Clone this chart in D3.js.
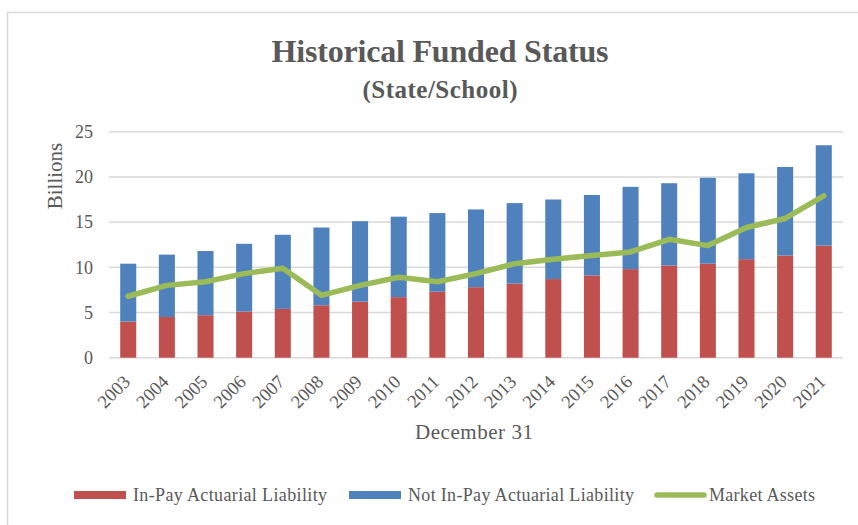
<!DOCTYPE html>
<html>
<head>
<meta charset="utf-8">
<script src="https://cdn.jsdelivr.net/npm/d3@7"></script>
<style>
  body { margin: 0; background: #fff; }
  text { font-family: 'Liberation Serif', 'Times New Roman', serif; fill: #595959; }
</style>
</head>
<body>
<svg id="chart" width="858" height="525"></svg>
<script>
// Historical funded status, state/school plan

const years = ['2003', '2004', '2005', '2006', '2007', '2008', '2009', '2010', '2011', '2012',
  '2013', '2014', '2015', '2016', '2017', '2018', '2019', '2020', '2021']
const inPay = [4.0, 4.5, 4.7, 5.1, 5.4, 5.8, 6.2, 6.7, 7.3, 7.8, 8.2, 8.7, 9.1, 9.8, 10.2, 10.4, 10.9, 11.3, 12.4]
const notInPay = [6.4, 6.9, 7.1, 7.5, 8.2, 8.6, 8.9, 8.9, 8.7, 8.6, 8.9, 8.8, 8.9, 9.1, 9.1, 9.5, 9.5, 9.8, 11.1]
const marketAssets = [6.8, 8.0, 8.4, 9.3, 9.9, 6.9, 8.0, 8.9, 8.4, 9.3, 10.4, 10.9, 11.3, 11.7, 13.1, 12.4, 14.4, 15.4, 17.9]
const yTicks = [0, 5, 10, 15, 20, 25]

const colors = { inPay: '#C0504D', notInPay: '#4F81BD', assets: '#9BBB59' }

let svg = d3.select('#chart')

// Chart frame
svg.append('rect')
  .attr('x', 7.5)
  .attr('y', 12.5)
  .attr('width', 856)
  .attr('height', 520)
  .style('fill', 'none')
  .style('stroke', '#D9D9D9')
  .style('stroke-width', 1.5)

let plot = { left: 109, right: 843, top: 131.7, bottom: 357.7 }

let x = d3.scaleBand()
    .domain(years)
    .range([plot.left, plot.right])
    .paddingInner(0.585)
    .paddingOuter(0.29)

let y = d3.scaleLinear()
    .domain([0, 25])
    .range([plot.bottom, plot.top])

// Gridlines
svg.append('g')
  .selectAll('line')
  .data(yTicks)
  .join('line')
  .attr('x1', plot.left)
  .attr('x2', plot.right)
  .attr('y1', d => y(d))
  .attr('y2', d => y(d))
  .style('stroke', '#D9D9D9')
  .style('stroke-width', 1.5)

// Y axis labels
let yAxis = d3.axisLeft(y)
    .tickValues(yTicks)
    .tickSize(0)
    .tickPadding(16)

let yg = svg.append('g')
  .attr('transform', 'translate(' + plot.left + ',0)')
  .call(yAxis)
yg.select('.domain').remove()
yg.selectAll('text')
  .style('font-size', '18px')
  .style('font-family', "'Liberation Serif', serif")
  .style('fill', '#595959')

// Stacked bars
let stacked = years.map((yr, i) => ({ year: yr, a: inPay[i], b: notInPay[i] }))

svg.append('g')
  .selectAll('rect')
  .data(stacked)
  .join('rect')
  .attr('x', d => x(d.year))
  .attr('width', x.bandwidth())
  .attr('y', d => y(d.a))
  .attr('height', d => y(0) - y(d.a))
  .style('fill', colors.inPay)

svg.append('g')
  .selectAll('rect')
  .data(stacked)
  .join('rect')
  .attr('x', d => x(d.year))
  .attr('width', x.bandwidth())
  .attr('y', d => y(d.a + d.b))
  .attr('height', d => y(d.a) - y(d.a + d.b))
  .style('fill', colors.notInPay)

// Market assets line
let line = d3.line()
    .x((d, i) => x(years[i]) + x.bandwidth() / 2)
    .y(d => y(d))

svg.append('path')
  .datum(marketAssets)
  .attr('d', line)
  .style('fill', 'none')
  .style('stroke', colors.assets)
  .style('stroke-width', 5.5)
  .style('stroke-linejoin', 'round')
  .style('stroke-linecap', 'round')

// X labels, rotated
svg.append('g')
  .selectAll('text')
  .data(years)
  .join('text')
  .attr('transform', d => 'translate(' + (x(d) + x.bandwidth() / 2 + 3) + ',383) rotate(-45)')
  .attr('text-anchor', 'end')
  .style('font-size', '18.5px')
  .text(d => d)

// Titles
svg.append('text')
  .attr('x', 440)
  .attr('y', 62)
  .attr('text-anchor', 'middle')
  .attr('textLength', 337)
  .attr('lengthAdjust', 'spacing')
  .style('font-size', '32px')
  .style('font-weight', 'bold')
  .text('Historical Funded Status')

svg.append('text')
  .attr('x', 440)
  .attr('y', 98)
  .attr('text-anchor', 'middle')
  .attr('textLength', 155)
  .attr('lengthAdjust', 'spacing')
  .style('font-size', '25px')
  .style('font-weight', 'bold')
  .text('(State/School)')

svg.append('text')
  .attr('transform', 'translate(62,176) rotate(-90)')
  .attr('text-anchor', 'middle')
  .style('font-size', '21px')
  .text('Billions')

svg.append('text')
  .attr('x', 474)
  .attr('y', 439)
  .attr('text-anchor', 'middle')
  .attr('textLength', 118)
  .attr('lengthAdjust', 'spacing')
  .style('font-size', '21px')
  .text('December 31')

// Legend
let legendItems = [
  { label: 'In-Pay Actuarial Liability', color: colors.inPay, type: 'bar', x: 74, w: 194 },
  { label: 'Not In-Pay Actuarial Liability', color: colors.notInPay, type: 'bar', x: 349, w: 226 },
  { label: 'Market Assets', color: colors.assets, type: 'line', x: 654, w: 106 }
]

let legend = svg.append('g')
  .selectAll('g')
  .data(legendItems)
  .join('g')
  .attr('transform', d => 'translate(' + d.x + ',495)')

legend.filter(d => d.type === 'bar')
  .append('rect')
  .attr('x', 0)
  .attr('y', -4)
  .attr('width', 52)
  .attr('height', 8)
  .style('fill', d => d.color)

legend.filter(d => d.type === 'line')
  .append('line')
  .attr('x1', 3)
  .attr('x2', 50)
  .attr('y1', 0)
  .attr('y2', 0)
  .style('stroke', d => d.color)
  .style('stroke-width', 5.5)
  .style('stroke-linecap', 'round')

legend.append('text')
  .attr('x', d => d.type === 'bar' ? 59 : 55)
  .attr('y', 6)
  .attr('textLength', d => d.w)
  .attr('lengthAdjust', 'spacing')
  .style('font-size', '18px')
  .text(d => d.label)
</script>
</body>
</html>
